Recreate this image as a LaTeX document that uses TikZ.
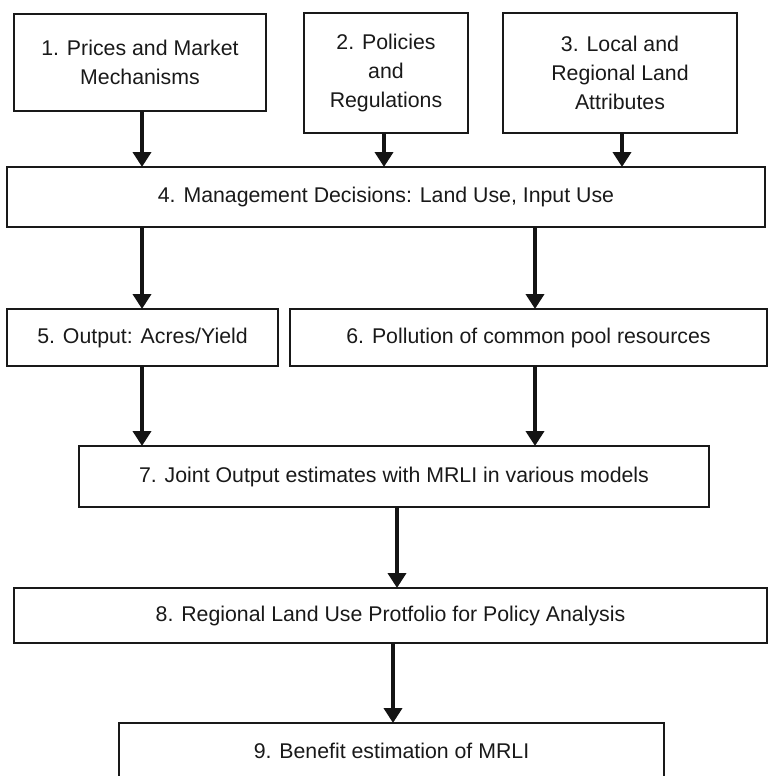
\documentclass[tikz,border=0pt]{standalone}
\usepackage{fontspec}
\setmainfont{Liberation Sans}
\usetikzlibrary{arrows.meta}
\begin{document}
\begin{tikzpicture}[x=1pt,y=-1pt,
  box/.style={draw=black!90, line width=1.3pt, rectangle, inner sep=0pt, outer sep=0pt,
    align=center, text=black!90, font=\fontsize{21.3}{29}\selectfont},
  arr/.style={draw=black!92, line width=4.5pt, -{Triangle[width=18pt,length=15pt]}, shorten >=0pt}]
\useasboundingbox (0,0) rectangle (768,776);
\node[box, minimum width=252pt, minimum height=97pt] (b1) at (140,62.5) {1. Prices and Market\\Mechanisms};
\node[box, minimum width=164pt, minimum height=120pt] (b2) at (386,73) {2. Policies\\and\\Regulations};
\node[box, minimum width=234pt, minimum height=120pt] (b3) at (620,73) {3. Local and\\Regional Land\\Attributes};
\node[box, minimum width=758pt, minimum height=60pt] (b4) at (386,197) {4. Management Decisions: Land Use, Input Use};
\node[box, minimum width=271pt, minimum height=57pt] (b5) at (142.5,337.5) {5. Output: Acres/Yield};
\node[box, minimum width=477pt, minimum height=57pt] (b6) at (528.5,337.5) {6. Pollution of common pool resources};
\node[box, minimum width=630pt, minimum height=61pt] (b7) at (394,476.5) {7. Joint Output estimates with MRLI in various models};
\node[box, minimum width=753pt, minimum height=55pt] (b8) at (390.5,615.5) {8. Regional Land Use Protfolio for Policy Analysis};
\node[box, minimum width=545pt, minimum height=55pt] (b9) at (391.5,750.5) {9. Benefit estimation of MRLI};
\coordinate (xa) at (142,0);
\coordinate (xb) at (384,0);
\coordinate (xc) at (622,0);
\coordinate (xd) at (535,0);
\coordinate (xe) at (397,0);
\coordinate (xf) at (393,0);
\draw[arr] (b1.south -| xa) -- (b4.north -| xa);
\draw[arr] (b2.south -| xb) -- (b4.north -| xb);
\draw[arr] (b3.south -| xc) -- (b4.north -| xc);
\draw[arr] (b4.south -| xa) -- (b5.north -| xa);
\draw[arr] (b4.south -| xd) -- (b6.north -| xd);
\draw[arr] (b5.south -| xa) -- (b7.north -| xa);
\draw[arr] (b6.south -| xd) -- (b7.north -| xd);
\draw[arr] (b7.south -| xe) -- (b8.north -| xe);
\draw[arr] (b8.south -| xf) -- (b9.north -| xf);
\end{tikzpicture}
\end{document}
